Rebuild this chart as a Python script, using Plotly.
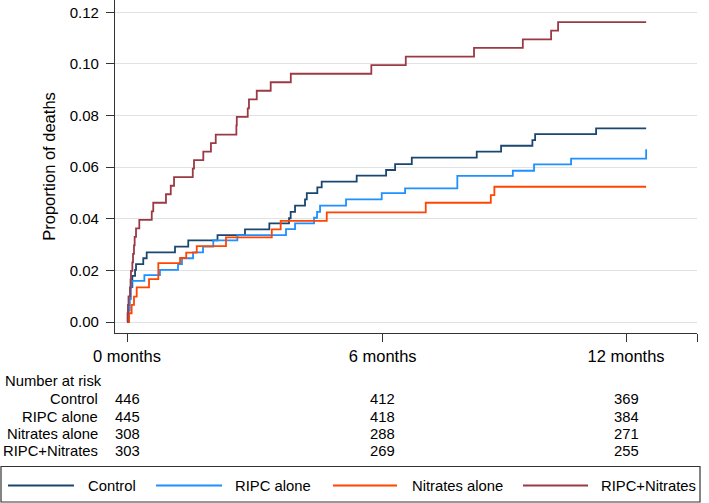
import plotly.graph_objects as go

# ---- data ----
series_names = ["Control", "RIPC alone", "Nitrates alone", "RIPC+Nitrates"]
series_colors = ["#1a476f", "#1e90ff", "#ff4500", "#9a3a45"]

control_days = [0, 1.0, 1.8, 2.6, 3.9, 5.9, 6.6, 11.9, 14.4, 35.1, 44.8, 66.2, 86.3, 104.1, 118.5,
                119.7, 122.9, 130.2, 131.5, 139.2, 142.4, 168.0, 189.5, 196.1, 208.3, 255.8, 273.6,
                296.5, 298.5, 343.1, 379.7]
control_prop = [0, 0.0045, 0.009, 0.0135, 0.0179, 0.0202, 0.0224, 0.0247, 0.027, 0.0292, 0.0316,
                0.0337, 0.0359, 0.0382, 0.0402, 0.0427, 0.0451, 0.0475, 0.0499, 0.0522, 0.0544,
                0.0567, 0.0589, 0.0612, 0.0637, 0.066, 0.0683, 0.0705, 0.0728, 0.075, 0.075]

ripc_days = [0, 1.0, 1.8, 2.6, 3.4, 12.7, 24.1, 37.3, 40.2, 48.3, 55.6, 63.1, 80.7, 116.3, 122.9,
             136.8, 139.0, 141.2, 160.2, 186.3, 203.4, 241.6, 282.2, 297.7, 324.8, 379.7]
ripc_prop = [0, 0.0045, 0.009, 0.0135, 0.0159, 0.0182, 0.0202, 0.0224, 0.0247, 0.027, 0.0292,
             0.0316, 0.0337, 0.036, 0.0382, 0.0404, 0.0427, 0.0451, 0.0475, 0.0499, 0.0518,
             0.0566, 0.0586, 0.0611, 0.0633, 0.0669]

nitrates_days = [0, 1.5, 3.4, 5.1, 7.1, 16.1, 22.9, 38.8, 43.3, 51.0, 72.4, 105.9, 112.4, 146.1,
                 218.5, 266.1, 268.7, 379.7]
nitrates_prop = [0, 0.0034, 0.0066, 0.0098, 0.0134, 0.0166, 0.0228, 0.0248, 0.0269, 0.0294,
                 0.0328, 0.0359, 0.0392, 0.0425, 0.0462, 0.0492, 0.0524, 0.0524]

combo_days = [0, 0.4, 0.7, 1.1, 2.2, 2.6, 2.9, 3.9, 4.4, 5.1, 5.6, 6.6, 9.0, 18.1, 19.2, 28.5, 32.0,
              34.4, 48.1, 49.0, 55.8, 61.4, 64.9, 80.0, 80.3, 88.3, 89.2, 94.9, 105.1, 119.8, 178.7,
              203.9, 253.8, 289.5, 310.2, 315.3, 379.7]
combo_prop = [0, 0.0033, 0.0066, 0.0099, 0.0132, 0.0165, 0.0198, 0.0231, 0.0264, 0.0297, 0.033,
              0.0363, 0.0396, 0.0429, 0.0462, 0.0495, 0.0528, 0.0561, 0.0594, 0.0627, 0.066,
              0.0693, 0.0726, 0.0762, 0.0795, 0.0828, 0.0863, 0.0896, 0.0929, 0.0962, 0.0995,
              0.1028, 0.1062, 0.1095, 0.1129, 0.1162, 0.1162]

tick_days = [0, 187, 365]
tick_labels = ["0 months", "6 months", "12 months"]
y_ticks = [0.00, 0.02, 0.04, 0.06, 0.08, 0.10, 0.12]

risk_title = "Number at risk"
risk_control = [446, 412, 369]
risk_ripc = [445, 418, 384]
risk_nitrates = [308, 288, 271]
risk_combo = [303, 269, 255]

# ---- figure ----
FONT = "Arial, Liberation Sans, Helvetica, sans-serif"
all_days = [control_days, ripc_days, nitrates_days, combo_days]
all_prop = [control_prop, ripc_prop, nitrates_prop, combo_prop]
all_risk = [risk_control, risk_ripc, risk_nitrates, risk_combo]

fig = go.Figure()
for name, color, xs, ys in zip(series_names, series_colors, all_days, all_prop):
    fig.add_trace(go.Scatter(x=xs, y=ys, mode="lines", name=name,
                             line=dict(color=color, width=1.8, shape="hv"),
                             showlegend=False, hoverinfo="skip"))

W, H = 709, 503
ml, mr, mt, mb = 115, 12, 0, 170
pw, ph = W - ml - mr, H - mt - mb


def px_x(p):
    return (p - ml) / pw


def px_y(p):
    return (H - mb - p) / ph


x_end = 416.9
annotations = []
shapes = []

# number at risk table
annotations.append(dict(text=risk_title, xref="paper", yref="paper", x=px_x(3), y=px_y(381),
                        xanchor="left", yanchor="middle", showarrow=False,
                        font=dict(size=14.8, color="black", family=FONT)))
row_y = [399, 416.5, 434, 451]
for name, risk, ry in zip(series_names, all_risk, row_y):
    annotations.append(dict(text=name, xref="paper", yref="paper", x=px_x(100), y=px_y(ry),
                            xanchor="right", yanchor="middle", showarrow=False,
                            font=dict(size=14.8, color="black", family=FONT)))
    for d, n in zip(tick_days, risk):
        annotations.append(dict(text=str(n), xref="x", yref="paper", x=d, y=px_y(ry),
                                xanchor="center", yanchor="middle", showarrow=False,
                                font=dict(size=14.8, color="black", family=FONT)))

# legend box (manual, to match the long keys)
shapes.append(dict(type="rect", xref="paper", yref="paper", x0=px_x(1), x1=px_x(700),
                   y0=px_y(502), y1=px_y(466.5), line=dict(color="#333333", width=1.2),
                   fillcolor="rgba(0,0,0,0)"))
key_x = [(8, 74, 86), (156, 222, 233), (333, 397, 410), (523, 588, 599)]
ly = 485.5
for name, color, (a, b, t) in zip(series_names, series_colors, key_x):
    shapes.append(dict(type="line", xref="paper", yref="paper", x0=px_x(a), x1=px_x(b),
                       y0=px_y(ly), y1=px_y(ly), line=dict(color=color, width=1.8)))
    annotations.append(dict(text=name, xref="paper", yref="paper", x=px_x(t), y=px_y(ly),
                            xanchor="left", yanchor="middle", showarrow=False,
                            font=dict(size=14.8, color="black", family=FONT)))

fig.update_layout(
    width=W, height=H,
    margin=dict(l=ml, r=mr, t=mt, b=mb, pad=0),
    paper_bgcolor="white", plot_bgcolor="white",
    font=dict(family=FONT, color="black"),
    annotations=annotations, shapes=shapes,
    showlegend=False,
)
fig.update_xaxes(
    range=[-8.78, x_end], tickmode="array",
    tickvals=tick_days + [x_end], ticktext=tick_labels + [""],
    ticks="outside", ticklen=8, tickwidth=1.2, tickcolor="#333333",
    showline=True, linecolor="#333333", linewidth=1.3,
    showgrid=False, zeroline=False,
    tickfont=dict(size=16.5, color="black", family=FONT),
)
fig.update_yaxes(
    range=[-0.00426, 0.12477], tickmode="array", tickvals=y_ticks,
    ticktext=[f"{v:.2f}" for v in y_ticks],
    ticks="outside", ticklen=8, tickwidth=1.2, tickcolor="#333333",
    showline=True, linecolor="#333333", linewidth=1.3,
    showgrid=True, gridcolor="#e2e2e2", gridwidth=1.3, zeroline=False,
    tickfont=dict(size=15, color="black", family=FONT),
    ticklabelstandoff=4,
    title=dict(text="Proportion of deaths", standoff=9,
               font=dict(size=16.5, color="black", family=FONT)),
)

fig.write_html("out.html",
               config={"displayModeBar": False},
               post_script="document.body.style.margin='0px';document.body.style.overflow='hidden';")
